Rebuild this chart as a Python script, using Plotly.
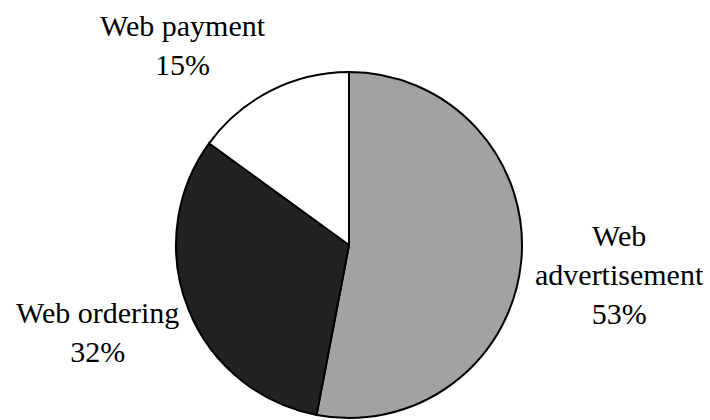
import plotly.graph_objects as go

categories = ["Web advertisement", "Web ordering", "Web payment"]
shares = [53, 32, 15]
slice_colors = ["#a2a2a2", "#222222", "#ffffff"]

# label layout: (display lines, x px, y px from top)
label_lines = [["Web", "advertisement"], ["Web ordering"], ["Web payment"]]
label_pos = [(619, 274), (97, 332), (183, 45)]

W, H = 710, 420
cx, cy, r = 349, 245, 173

fig = go.Figure(go.Pie(
    labels=categories,
    values=shares,
    sort=False,
    direction="clockwise",
    rotation=0,
    marker=dict(colors=slice_colors, line=dict(color="black", width=2)),
    textinfo="none",
    hoverinfo="label+percent",
    showlegend=False,
    domain=dict(x=[(cx - r) / W, (cx + r) / W],
                y=[(H - cy - r) / H, (H - cy + r) / H]),
))

for lines, val, (x, y) in zip(label_lines, shares, label_pos):
    fig.add_annotation(
        x=x / W, y=1 - y / H, xref="paper", yref="paper",
        text="<br>".join(lines + [f"{val}%"]),
        showarrow=False, xanchor="center", yanchor="middle",
        font=dict(family="Liberation Serif", size=30, color="black"),
    )

fig.update_layout(
    width=W, height=H,
    margin=dict(l=0, r=0, t=0, b=0),
    paper_bgcolor="white", plot_bgcolor="white",
)

fig.write_html("out.html")
